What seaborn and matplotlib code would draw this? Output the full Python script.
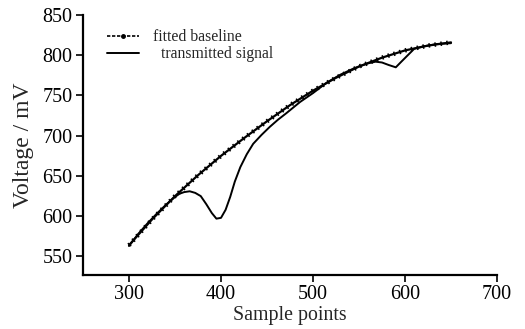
import matplotlib
matplotlib.use("Agg")
import matplotlib.pyplot as plt
import seaborn as sns
import pandas as pd
from matplotlib.lines import Line2D

# fitted baseline
base_x = [300, 325, 350, 375, 400, 425, 450, 475, 500, 525, 550, 575, 600, 625, 650]
base_y = [564, 596, 625, 651, 675, 697, 718, 738, 756, 772, 786, 797, 806, 812, 816]

# transmitted signal
sig_x = [300, 310, 320, 330, 340, 350, 355, 360, 366, 372, 378, 384, 390, 395, 400,
         405, 410, 415, 421, 428, 435, 444, 453, 462, 471, 486, 500, 515, 530, 545,
         560, 568, 575, 582, 590, 596, 603, 610, 620, 635, 650]
sig_y = [563, 578, 591, 603, 614, 624, 628, 630, 631, 629, 625, 615, 604, 597, 598,
         608, 624, 643, 661, 677, 690, 701, 711, 720, 728, 742, 753, 766, 776, 784,
         790, 792, 791, 788, 785, 792, 800, 808, 811, 814, 815]

sns.set_style("ticks")
plt.rcParams['font.family'] = ['Liberation Serif', 'DejaVu Serif']

base = pd.DataFrame({'x': base_x, 'y': base_y})
sig = pd.DataFrame({'x': sig_x, 'y': sig_y})

fig = plt.figure(figsize=(5.25, 3.29), dpi=100)
ax = fig.add_axes([83/525, 54/329, 414/525, 260/329])

sns.lineplot(data=sig, x='x', y='y', ax=ax, color='black', lw=1.4)
sns.lineplot(data=base, x='x', y='y', ax=ax, color='black', lw=1.6)
# little teeth along the baseline
sns.lineplot(data=base, x='x', y='y', ax=ax, color='black', lw=3.2)
ax.lines[-1].set_dashes((0.35, 1.0))

ax.set_xlim(250, 700)
ax.set_ylim(527, 850)
ax.set_xticks([300, 400, 500, 600, 700])
ax.set_yticks([550, 600, 650, 700, 750, 800, 850])
ax.tick_params(labelsize=14.5, length=5, width=1.2, color='black', labelcolor='black', pad=2.5)
ax.set_xlabel('Sample points', fontsize=14.3, labelpad=1)
ax.set_ylabel('Voltage / mV', fontsize=17, labelpad=6)
sns.despine(ax=ax)
for s in ['left', 'bottom']:
    ax.spines[s].set_linewidth(1.6)
    ax.spines[s].set_color('black')

h1 = Line2D([0, 0.5, 1], [0, 0, 0], color='black', lw=1.2, ls=(0, (2, 1)),
            marker='.', markersize=5, markevery=[1])
h2 = Line2D([], [], color='black', lw=1.4)
ax.legend([h1, h2], ['fitted baseline', '  transmitted signal'],
          loc='upper left', bbox_to_anchor=(0.025, 1.0), frameon=False,
          fontsize=11.3, handlelength=2.0, handletextpad=0.9, labelspacing=0.08)

fig.savefig('out.png', dpi=100)
